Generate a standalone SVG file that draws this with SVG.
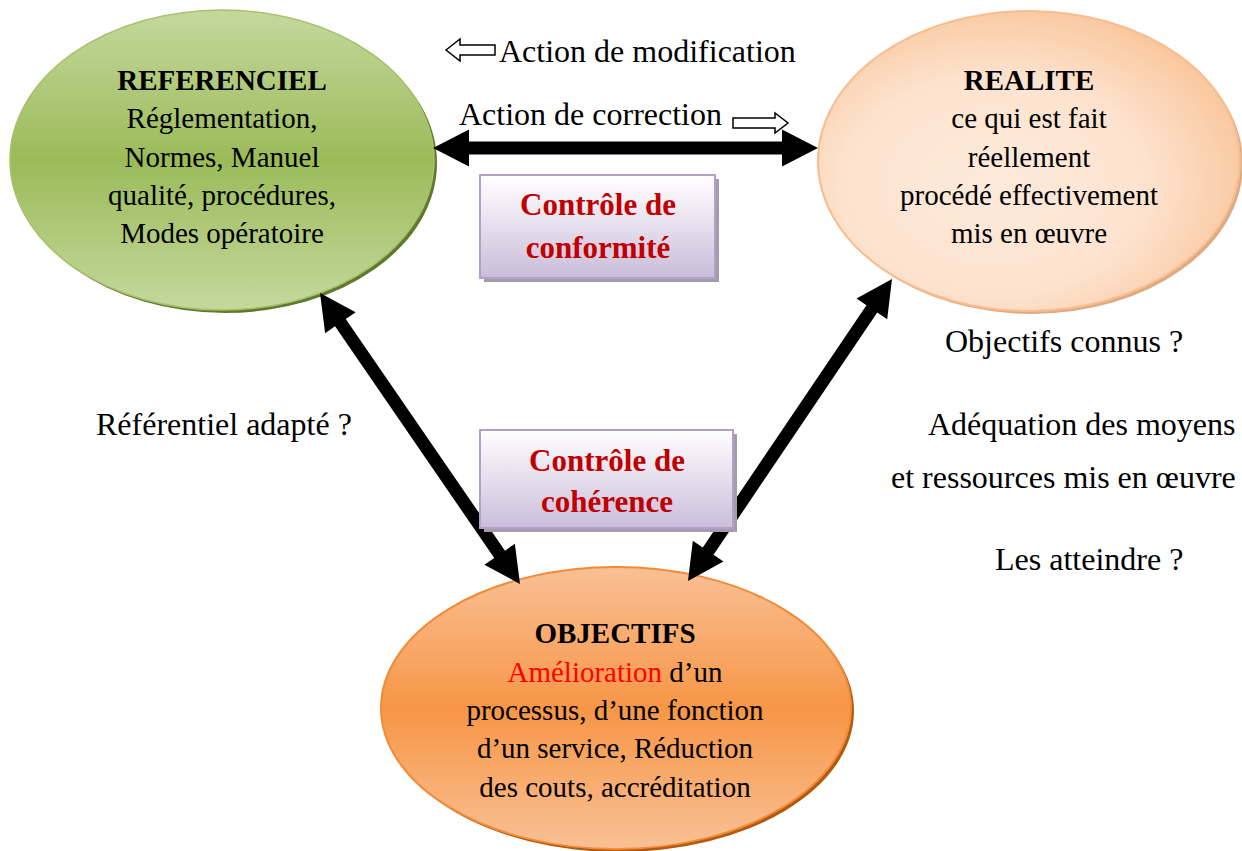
<svg xmlns="http://www.w3.org/2000/svg" width="1242" height="851" viewBox="0 0 1242 851">
  <defs>
    <linearGradient id="gGreen" x1="0" y1="0" x2="0" y2="1">
      <stop offset="0" stop-color="#c4d89d"/>
      <stop offset="0.5" stop-color="#9bbb59"/>
      <stop offset="1" stop-color="#c4d89d"/>
    </linearGradient>
    <radialGradient id="gPeach" cx="0.42" cy="0.58" r="0.65">
      <stop offset="0" stop-color="#fdeadb"/>
      <stop offset="0.55" stop-color="#fde3cf"/>
      <stop offset="1" stop-color="#f9c397"/>
    </radialGradient>
    <linearGradient id="gOrange" x1="0" y1="0" x2="0" y2="1">
      <stop offset="0" stop-color="#f9c095"/>
      <stop offset="0.5" stop-color="#f79646"/>
      <stop offset="1" stop-color="#f9c095"/>
    </linearGradient>
    <linearGradient id="gBox" x1="0" y1="0" x2="0" y2="1">
      <stop offset="0" stop-color="#ffffff"/>
      <stop offset="1" stop-color="#cbbdda"/>
    </linearGradient>
  </defs>
  <style>
    text { font-family: "Liberation Serif", "Times New Roman", serif; fill: #000; }
    .node { font-size: 29px; text-anchor: middle; }
    .title { font-weight: bold; }
    .label { font-size: 32px; }
    .box { fill: url(#gBox); stroke: #b2a1c7; stroke-width: 2; }
    .boxShadow { fill: #a39cad; }
    .boxText { font-size: 31px; font-weight: bold; fill: #c00000; text-anchor: middle; }
    .arrow { fill: #000; }
    .hollow { fill: #fff; stroke: #000; stroke-width: 1.5; stroke-linejoin: miter; }
  </style>

  <rect width="1242" height="851" fill="#ffffff"/>

  <!-- REFERENCIEL -->
  <g id="referenciel">
    <ellipse cx="225" cy="163" rx="212" ry="150" fill="#5f7a2e"/>
    <ellipse cx="222" cy="160" rx="212" ry="150" fill="url(#gGreen)" stroke="#a7c26a" stroke-width="1.5"/>
    <text class="node title" x="222" y="90">REFERENCIEL</text>
    <text class="node" x="222" y="128">Réglementation,</text>
    <text class="node" x="222" y="167">Normes, Manuel</text>
    <text class="node" x="222" y="205">qualité, procédures,</text>
    <text class="node" x="222" y="243">Modes opératoire</text>
  </g>

  <!-- REALITE -->
  <g id="realite">
    <ellipse cx="1032" cy="164" rx="211" ry="150" fill="#dcab84"/>
    <ellipse cx="1029" cy="161" rx="211" ry="150" fill="url(#gPeach)" stroke="#f8bd8e" stroke-width="2"/>
    <text class="node title" x="1029" y="90">REALITE</text>
    <text class="node" x="1029" y="128">ce qui est fait</text>
    <text class="node" x="1029" y="167">réellement</text>
    <text class="node" x="1029" y="205">procédé effectivement</text>
    <text class="node" x="1029" y="243">mis en œuvre</text>
  </g>

  <!-- OBJECTIFS -->
  <g id="objectifs">
    <ellipse cx="619" cy="711" rx="235" ry="141" fill="#b05a12"/>
    <ellipse cx="616" cy="708" rx="235" ry="141" fill="url(#gOrange)" stroke="#f38a35" stroke-width="2"/>
    <text class="node title" x="615" y="643">OBJECTIFS</text>
    <text class="node" x="615" y="682"><tspan fill="#ff0000">Amélioration</tspan> d’un</text>
    <text class="node" x="615" y="720">processus, d’une fonction</text>
    <text class="node" x="615" y="758">d’un service, Réduction</text>
    <text class="node" x="615" y="797">des couts, accréditation</text>
  </g>

  <!-- connectors -->
  <g id="connectors">
    <polygon class="arrow" points="433,148 469,129.5 469,141.5 782,141.5 782,129.5 818,148 782,166.5 782,154.5 469,154.5 469,166.5"/>
    <polygon class="arrow" points="320,293 355.64,312.19 345.75,318.99 504.97,550.65 514.86,543.85 520,584 484.36,564.81 494.25,558.01 335.03,326.35 325.14,333.15"/>
    <polygon class="arrow" points="892,279 887.18,319.2 877.24,312.48 713.54,554.8 723.48,561.52 688,581 692.82,540.8 702.76,547.52 866.46,305.2 856.52,298.48"/>
  </g>

  <!-- control boxes -->
  <g id="controle-conformite">
    <rect class="boxShadow" x="484" y="179" width="235" height="103"/>
    <rect class="box" x="480" y="175" width="235" height="103"/>
    <text class="boxText" x="598" y="215">Contrôle de</text>
    <text class="boxText" x="598" y="258">conformité</text>
  </g>
  <g id="controle-coherence">
    <rect class="boxShadow" x="484" y="434" width="253" height="98"/>
    <rect class="box" x="480" y="430" width="253" height="98"/>
    <text class="boxText" x="607" y="471">Contrôle de</text>
    <text class="boxText" x="607" y="512">cohérence</text>
  </g>

  <!-- action labels -->
  <g id="action-modification">
    <polygon class="hollow" points="446,50 460,39 460,45 495,45 495,55 460,55 460,61"/>
    <text class="label" x="499" y="62">Action de modification</text>
  </g>
  <g id="action-correction">
    <text class="label" x="459" y="125">Action de correction</text>
    <polygon class="hollow" points="733,118 775,118 775,113 788,123 775,133 775,128 733,128"/>
  </g>

  <!-- questions -->
  <g id="questions">
    <text class="label" x="96" y="435">Référentiel adapté ?</text>
    <text class="label" x="945" y="352">Objectifs connus ?</text>
    <text class="label" x="928" y="435">Adéquation des moyens</text>
    <text class="label" x="891" y="488">et ressources mis en œuvre</text>
    <text class="label" x="995" y="570">Les atteindre ?</text>
  </g>
</svg>
